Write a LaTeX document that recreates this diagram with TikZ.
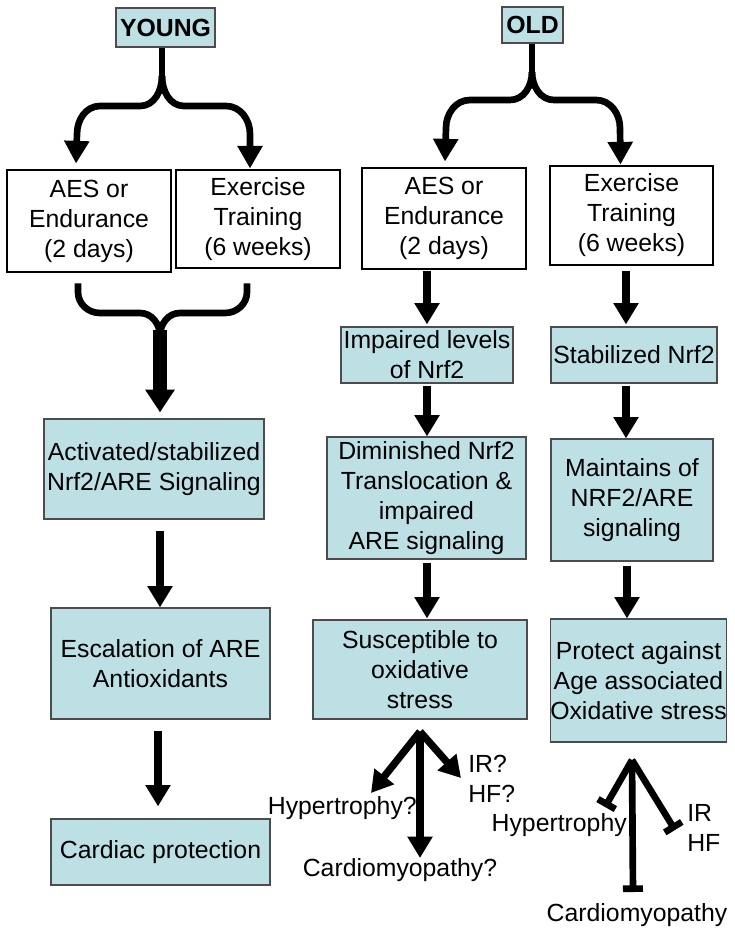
\documentclass[tikz,border=0pt]{standalone}
\usepackage{fontspec}
\setmainfont{Liberation Sans}
\usetikzlibrary{arrows.meta,calc}
\definecolor{boxblue}{HTML}{BCE0E4}
\newcommand{\dfont}{\fontsize{18.6}{22.5}\selectfont}

\begin{document}
\begin{tikzpicture}[x=0.75pt,y=-0.75pt,
    bluebox/.style={draw=black!70,line width=0.9pt,fill=boxblue,align=center,inner sep=0pt,font=\dfont},
    whitebox/.style={draw,line width=2.2pt,fill=white,align=center,inner sep=0pt,font=\dfont},
    boxsize/.style 2 args={minimum width=#1*0.75pt,minimum height=#2*0.75pt},
    lbl/.style={inner sep=0pt,font=\dfont},
    forkline/.style={line width=5pt},
    forkarr/.style={line width=5pt,-{Triangle[width=18pt,length=17pt]}},
    arr/.style={line width=6pt,-{Triangle[width=18pt,length=16pt]}},
    bigarr/.style={line width=10pt,-{Triangle[width=21pt,length=17pt]}},
    inhib/.style={line width=5pt,-{Bar[width=15pt]}}]
    \useasboundingbox (0,0) rectangle (735,935);

    % headers
    \node[bluebox,boxsize={99}{39}] (young) at (165.5,27.5) {\textbf{YOUNG}};
    \node[bluebox,boxsize={61}{36}] (old) at (532.5,25) {\textbf{OLD}};

    % protocols
    \node[whitebox,boxsize={164}{102}] (yaes) at (89,221) {AES or\\Endurance\\(2 days)};
    \node[whitebox,boxsize={164}{98}] (yex) at (258,219) {Exercise\\Training\\(6 weeks)};
    \node[whitebox,boxsize={164}{101}] (oaes) at (444,218.5) {AES or\\Endurance\\(2 days)};
    \node[whitebox,boxsize={163}{99}] (oex) at (631.5,215.5) {Exercise\\Training\\(6 weeks)};

    % young column
    \node[bluebox,boxsize={220}{100}] (yact) at (154,469) {Activated/stabilized\\Nrf2/ARE Signaling};
    \node[bluebox,boxsize={219}{111}] (yesc) at (160.5,663.5) {Escalation of ARE\\Antioxidants};
    \node[bluebox,boxsize={219}{66}] (ycard) at (160.5,852) {Cardiac protection};

    % old column, acute
    \node[bluebox,boxsize={172}{56}] (oimp) at (427,355) {Impaired levels\\of Nrf2};
    \node[bluebox,boxsize={199}{122}] (odim) at (426.5,498) {Diminished Nrf2\\Translocation \&\\impaired\\ARE signaling};
    \node[bluebox,boxsize={214}{99}] (osus) at (420,669.5) {Susceptible to\\oxidative\\stress};

    % old column, training
    \node[bluebox,boxsize={166}{56}] (ostab) at (634,355) {Stabilized Nrf2};
    \node[bluebox,boxsize={162}{122}] (omain) at (632,500) {Maintains of\\NRF2/ARE\\signaling};
    \node[bluebox,boxsize={175}{123}] (oprot) at (638.5,680.5) {Protect against\\Age associated\\Oxidative stress};

    % outcomes
    \node[lbl,anchor=east] (hyq) at (417,808) {Hypertrophy?};
    \node[lbl,anchor=west,align=left] (irq) at (468,779) {IR?\\HF?};
    \node[lbl] (cmq) at (400,870) {Cardiomyopathy?};
    \node[lbl,anchor=east] (hy) at (627,825) {Hypertrophy};
    \node[lbl,anchor=west,align=left] (irhf) at (687,828) {IR\\HF};
    \node[lbl] (cm) at (637,915) {Cardiomyopathy};

    % split from YOUNG
    \draw[forkline] (young.south -| 162,0) -- (162,76);
    \draw[forkarr] (162,76) to[out=-90,in=0] (140,106) -- (100,106)
        to[out=180,in=90] (77,134) -- ($(yaes.north)+(-13,-5)$);
    \draw[forkarr] (162,76) to[out=-90,in=180] (184,106) -- (226,106)
        to[out=0,in=90] (250,134) -- ($(yex.north)+(-8,0)$);

    % split from OLD
    \draw[forkline] (old.south -| 532,0) -- (532,72);
    \draw[forkarr] (532,72) to[out=-90,in=0] (510,100) -- (470,100)
        to[out=180,in=90] (446,128) -- ($(oaes.north)+(1,-5)$);
    \draw[forkarr] (532,72) to[out=-90,in=180] (554,100) -- (596,100)
        to[out=0,in=90] (620,128) -- ($(oex.north)+(-11,0)$);

    % merge of the young protocols
    \coordinate (ymL) at ($(yaes.south)+(-11,10)$);
    \coordinate (ymR) at ($(yex.south)+(-11,14)$);
    \draw[forkline] (ymL) -- (78,292) to[out=-90,in=180] (100,313) -- (140,313)
        to[out=0,in=90] (160,336);
    \draw[forkline] (ymR) -- (247,292) to[out=-90,in=0] (225,313) -- (180,313)
        to[out=180,in=90] (160,336);
    \draw[bigarr] (160,330) -- ($(yact.north)+(6,-6)$);

    % straight steps
    \foreach \a/\b/\x/\s/\e in {yact/yesc/160/11/0, yesc/ycard/158/11/12,
        oaes/oimp/427/1/2, oimp/odim/427/2/0, odim/osus/427/3/1,
        oex/ostab/626/5/2, ostab/omain/626/2/0, omain/oprot/627/4/0}{
        \draw[arr,shorten <=\s*0.75pt,shorten >=\e*0.75pt] (\a.south -| \x,0) -- (\b.north -| \x,0);
    }

    % consequences of oxidative stress
    \coordinate (sfork) at ($(osus.south)+(0,12)$);
    \coordinate (hyqtip) at (371,793);
    \coordinate (irqtip) at (461,778);
    \coordinate (cmqtip) at (420,858);
    \draw[arr,line width=5.5pt] (sfork) -- (hyqtip);
    \draw[arr,line width=5.5pt] (sfork) -- (irqtip);
    \draw[arr,line width=5.5pt] (sfork) -- (cmqtip);

    % protection
    \coordinate (pfork) at (632,760);
    \coordinate (hytip) at (605,807);
    \coordinate (irtip) at (675,830);
    \coordinate (cmtip) at (633,892);
    \draw[inhib] (pfork) -- (hytip);
    \draw[inhib] (pfork) -- (irtip);
    \draw[inhib] (pfork) -- (cmtip);
\end{tikzpicture}
\end{document}
